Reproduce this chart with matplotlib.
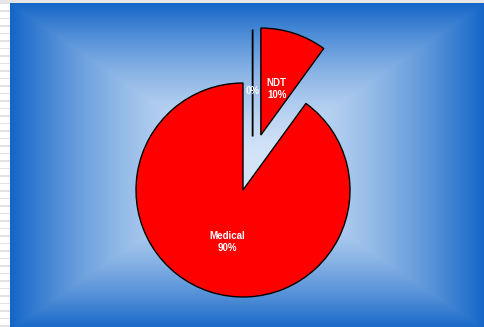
import numpy as np
import matplotlib
matplotlib.use("Agg")
import matplotlib.pyplot as plt

# ---- data ----
categories = ["", "NDT", "Medical"]
values = [0, 10, 90]
pct_labels = ["0%", "10%", "90%"]
explode = [0.5, 0.54, 0.0]

W, H = 485, 327
fig = plt.figure(figsize=(W / 100, H / 100), dpi=100)

# ---- background ----
bg = fig.add_axes([0, 0, 1, 1])
bg.set_xlim(0, W)
bg.set_ylim(H, 0)
bg.axis("off")
bg.add_patch(plt.Rectangle((0, 0), W, H, color="white", zorder=0))
for y0 in np.arange(2.5, H, 7.5):
    bg.add_patch(plt.Rectangle((0, y0), 10, 1.6, color="#e2e2e2", lw=0, zorder=1))
bg.add_patch(plt.Rectangle((0, 0), W, 3, color="#e6e6e6", lw=0, zorder=1))

x0p, x1p, y0p, y1p = 10, 485, 3, 330
cx, cy = (x0p + x1p) / 2, (y0p + y1p) / 2
hw, hh = (x1p - x0p) / 2, (y1p - y0p) / 2
xs = np.linspace(x0p, x1p, 500)
ys = np.linspace(y0p, y1p, 350)
X, Y = np.meshgrid(xs, ys)
t = np.maximum(np.abs(X - cx) / hw, np.abs(Y - cy) / hh)
t = np.clip(t, 0, 1) ** 1.7
c_in = np.array([212, 229, 248]) / 255
c_out = np.array([20, 102, 200]) / 255
img = c_in[None, None, :] + (c_out - c_in)[None, None, :] * t[..., None]
bg.imshow(img, extent=(x0p, x1p, y1p, y0p), aspect="auto", zorder=2, interpolation="bilinear")

# ---- pie ----
R = 107.0
pcx, pcy = 243.0, 190.0
ax = fig.add_axes([0, 0, 1, 1])
ax.patch.set_alpha(0)

labels = [f"{c}\n{p}" if c else p for c, p in zip(categories, pct_labels)]
wedges, texts = ax.pie(
    values, labels=labels, explode=explode, startangle=90, counterclock=False,
    colors=["#ff0000"] * 3, radius=1.0, labeldistance=0.48,
    wedgeprops=dict(edgecolor="black", linewidth=1.0),
    textprops=dict(color="white", fontweight="bold", fontsize=7,
                   family="Liberation Sans", linespacing=1.25),
    normalize=True,
)
ax.set_xlim(-pcx / R, (W - pcx) / R)
ax.set_ylim(-(H - pcy) / R, pcy / R)
ax.set_aspect("equal")
ax.axis("off")

dy = -3.0 / R
for tx in texts:
    tx.set_horizontalalignment("center")
    tx.set_verticalalignment("center")
    px, py = tx.get_position()
    tx.set_position((px, py + dy))
# zero slice sits slightly right of its bisector
dx = 0.09
cxw, cyw = wedges[0].center
wedges[0].set_center((cxw + dx, cyw))
wedges[0].set_facecolor("black")
wedges[0].set_linewidth(1.3)
tx0, ty0 = texts[0].get_position()
texts[0].set_position((tx0 + dx, ty0 - 3.0 / R))
texts[0].set_zorder(5)

fig.savefig("out.png", dpi=100)
